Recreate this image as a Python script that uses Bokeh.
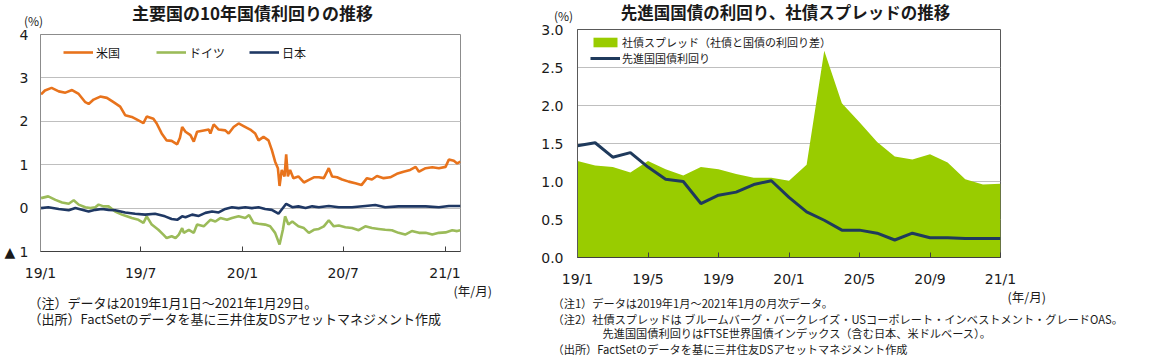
import pandas as pd
from bokeh.plotting import figure
from bokeh.layouts import row, column
from bokeh.models import Label, Legend, LegendItem, FixedTicker, NumeralTickFormatter, Range1d
from bokeh.embed import file_html
from bokeh.resources import INLINE

# ---------------- left chart data (days since 2019-01-01, yield %) ----------------
BASE = "2019-01-01"
END = "2021-01-29"
us_days = [1, 8, 20, 33, 45, 57, 69, 81, 87, 96, 108, 120, 132, 144, 153, 165, 177, 186, 192, 204,
           210, 219, 228, 237, 247, 252, 256, 262, 271, 277, 283, 295, 304, 307, 313, 322, 334, 340,
           349, 358, 367, 379, 388, 394, 403, 412, 418, 424, 429, 432, 436, 441, 444, 447, 451, 457,
           466, 476, 485, 494, 503, 512, 521, 527, 536, 545, 557, 569, 580, 590, 599, 608, 620, 632,
           644, 656, 668, 678, 684, 696, 708, 720, 732, 738, 747, 753, 759]
us_yield = [2.62, 2.71, 2.77, 2.69, 2.66, 2.72, 2.63, 2.44, 2.40, 2.50, 2.57, 2.54, 2.44, 2.34, 2.14,
            2.10, 2.02, 1.96, 2.11, 2.06, 1.95, 1.72, 1.56, 1.55, 1.47, 1.62, 1.87, 1.76, 1.68, 1.53,
            1.76, 1.79, 1.81, 1.72, 1.93, 1.81, 1.79, 1.72, 1.87, 1.95, 1.89, 1.81, 1.72, 1.56, 1.64,
            1.56, 1.34, 1.07, 0.92, 0.51, 0.88, 0.73, 1.24, 0.73, 0.88, 0.69, 0.73, 0.59, 0.65, 0.71,
            0.71, 0.69, 0.92, 0.73, 0.71, 0.66, 0.61, 0.57, 0.53, 0.69, 0.66, 0.74, 0.69, 0.71, 0.79,
            0.84, 0.88, 0.95, 0.84, 0.92, 0.94, 0.92, 0.95, 1.12, 1.09, 1.03, 1.07]
de_days = [1, 14, 27, 39, 51, 60, 69, 81, 90, 99, 105, 114, 123, 135, 147, 156, 165, 177, 186, 192,
           201, 213, 222, 228, 237, 244, 250, 256, 259, 268, 277, 283, 295, 307, 316, 325, 337, 346,
           358, 370, 377, 385, 394, 406, 415, 424, 432, 438, 442, 448, 455, 466, 476, 485, 494, 503,
           512, 521, 530, 539, 551, 563, 575, 587, 599, 611, 623, 635, 647, 659, 671, 684, 696, 708,
           720, 732, 744, 753, 759]
de_yield = [0.23, 0.27, 0.19, 0.13, 0.10, 0.18, 0.08, 0.02, 0.00, 0.02, 0.08, 0.04, 0.04, -0.08,
            -0.15, -0.19, -0.23, -0.27, -0.34, -0.19, -0.38, -0.50, -0.61, -0.69, -0.65, -0.69,
            -0.61, -0.46, -0.57, -0.50, -0.57, -0.38, -0.42, -0.27, -0.31, -0.23, -0.27, -0.23,
            -0.19, -0.23, -0.16, -0.34, -0.36, -0.38, -0.42, -0.57, -0.84, -0.50, -0.19, -0.38,
            -0.31, -0.42, -0.46, -0.57, -0.50, -0.48, -0.42, -0.28, -0.42, -0.40, -0.44, -0.46,
            -0.51, -0.42, -0.46, -0.48, -0.50, -0.51, -0.57, -0.61, -0.53, -0.57, -0.57, -0.61,
            -0.57, -0.56, -0.51, -0.53, -0.51]
jp_days = [1, 14, 33, 51, 63, 75, 87, 99, 111, 123, 135, 153, 171, 189, 207, 225, 237, 247, 256, 262,
           274, 286, 298, 310, 322, 334, 346, 358, 370, 382, 394, 406, 418, 430, 444, 455, 466, 479,
           491, 503, 521, 539, 563, 587, 605, 623, 647, 671, 696, 720, 738, 759]
jp_yield = [0.00, 0.02, -0.02, -0.05, 0.00, -0.04, -0.08, -0.04, -0.02, -0.04, -0.05, -0.10, -0.13,
            -0.15, -0.13, -0.19, -0.25, -0.27, -0.19, -0.21, -0.15, -0.18, -0.11, -0.08, -0.10,
            -0.02, 0.02, 0.00, 0.02, 0.00, 0.02, -0.02, -0.04, -0.13, 0.10, 0.02, 0.04, 0.00, 0.04,
            0.02, 0.05, 0.02, 0.02, 0.05, 0.07, 0.02, 0.04, 0.04, 0.04, 0.02, 0.05, 0.05]
left_tick_dates = ["2019-01-01", "2019-07-01", "2020-01-01", "2020-07-01", "2021-01-01"]
left_tick_labels = ["19/1", "19/7", "20/1", "20/7", "21/1"]
left_y_ticks = [-1, 0, 1, 2, 3, 4]

# ---------------- right chart data (monthly) ----------------
months = ["19/1", "19/2", "19/3", "19/4", "19/5", "19/6", "19/7", "19/8", "19/9", "19/10", "19/11",
          "19/12", "20/1", "20/2", "20/3", "20/4", "20/5", "20/6", "20/7", "20/8", "20/9", "20/10",
          "20/11", "20/12", "21/1"]
spread = [1.27, 1.21, 1.19, 1.12, 1.27, 1.16, 1.08, 1.19, 1.16, 1.10, 1.05, 1.05, 1.01, 1.22, 2.72,
          2.03, 1.78, 1.52, 1.33, 1.29, 1.36, 1.25, 1.03, 0.96, 0.97]
govt = [1.47, 1.51, 1.32, 1.38, 1.19, 1.03, 1.00, 0.71, 0.82, 0.86, 0.96, 1.01, 0.79, 0.60, 0.49,
        0.36, 0.36, 0.32, 0.23, 0.32, 0.26, 0.26, 0.25, 0.25, 0.25]
right_tick_labels = ["19/1", "19/5", "19/9", "20/1", "20/5", "20/9", "21/1"]
right_y_ticks = [0.0, 0.5, 1.0, 1.5, 2.0, 2.5, 3.0]

JP = "Noto Sans CJK JP"
NUM = "DejaVu Sans"
TXT = "#1a1a1a"
H = 361


def lab(p, x, y, text, size="13px", bold=False, align="left"):
    p.add_layout(Label(x=x, y=y, x_units="screen", y_units="screen", text=text,
                       text_font=JP, text_font_size=size, text_color=TXT,
                       text_font_style="bold" if bold else "normal",
                       text_align=align, text_baseline="middle"))


def style_axes(xa, ya, standoff_x, standoff_y, yline):
    xa.major_tick_in = 5
    xa.major_tick_out = 0
    xa.minor_tick_line_color = None
    xa.axis_line_color = "#404040"
    xa.major_tick_line_color = "#404040"
    xa.major_label_standoff = standoff_x
    xa.major_label_text_font = NUM
    xa.major_label_text_font_size = "14px"
    xa.major_label_text_color = TXT
    ya.major_tick_in = 0
    ya.major_tick_out = 0
    ya.major_tick_line_color = None
    ya.minor_tick_line_color = None
    ya.axis_line_color = yline
    ya.major_label_standoff = standoff_y
    ya.major_label_text_font = NUM
    ya.major_label_text_font_size = "14px"
    ya.major_label_text_color = TXT


# ---------------- left chart ----------------
base = pd.Timestamp(BASE)
end_day = (pd.Timestamp(END) - base).days
lt = [(pd.Timestamp(d) - base).days for d in left_tick_dates]

p1 = figure(width=538, height=H, output_backend="svg", toolbar_location=None,
            x_range=Range1d(0, end_day), y_range=Range1d(-1, 4),
            min_border_left=40, min_border_right=78, min_border_top=34, min_border_bottom=H - 34 - 217)
p1.outline_line_color = "#8c8c8c"
p1.xgrid.visible = False
p1.ygrid.grid_line_color = "#bfbfbf"
p1.ygrid.ticker = FixedTicker(ticks=left_y_ticks)

r_us = p1.line(us_days, us_yield, line_color="#e8731c", line_width=2.6)
r_de = p1.line(de_days, de_yield, line_color="#9bbb59", line_width=2.6)
r_jp = p1.line(jp_days, jp_yield, line_color="#1f3864", line_width=2.6)

xa = p1.xaxis[0]
ya = p1.yaxis[0]
xa.ticker = FixedTicker(ticks=lt)
xa.major_label_overrides = {t: s for t, s in zip(lt, left_tick_labels)}
ya.ticker = FixedTicker(ticks=left_y_ticks)
ya.major_label_overrides = {-1: "▲ 1"}
style_axes(xa, ya, 13, 12, "#8c8c8c")

leg1 = Legend(items=[LegendItem(label="米国", renderers=[r_us]),
                     LegendItem(label="ドイツ", renderers=[r_de]),
                     LegendItem(label="日本", renderers=[r_jp])],
              orientation="horizontal", location=(23, 189), glyph_width=30, glyph_height=20,
              label_standoff=3, label_width=57, spacing=3, padding=0, margin=0,
              border_line_color=None, background_fill_alpha=0,
              label_text_font=JP, label_text_font_size="12px", label_text_color=TXT)
p1.add_layout(leg1)

# ---------------- right chart ----------------
idx = list(range(len(months)))
rt = [months.index(m) for m in right_tick_labels]

p2 = figure(width=614, height=H, output_backend="svg", toolbar_location=None,
            x_range=Range1d(0, len(months) - 1), y_range=Range1d(0, 3),
            min_border_left=39, min_border_right=152, min_border_top=29, min_border_bottom=H - 29 - 228)
p2.outline_line_color = "#595959"
p2.xgrid.visible = False
p2.ygrid.grid_line_color = "#bfbfbf"
p2.ygrid.ticker = FixedTicker(ticks=right_y_ticks)

r_sp = p2.varea(x=idx, y1=0, y2=spread, fill_color="#99cc00")
r_gv = p2.line(idx, govt, line_color="#1f3a5c", line_width=3)

xa2 = p2.xaxis[0]
ya2 = p2.yaxis[0]
xa2.ticker = FixedTicker(ticks=rt)
xa2.major_label_overrides = {t: s for t, s in zip(rt, right_tick_labels)}
ya2.ticker = FixedTicker(ticks=right_y_ticks)
ya2.formatter = NumeralTickFormatter(format="0.0")
style_axes(xa2, ya2, 13, 14, "#595959")

leg2 = Legend(items=[LegendItem(label="社債スプレッド（社債と国債の利回り差）", renderers=[r_sp]),
                     LegendItem(label="先進国国債利回り", renderers=[r_gv])],
              location=(13, 191), glyph_width=30, glyph_height=12, label_height=16,
              label_standoff=2, spacing=0, padding=0, margin=0,
              border_line_color=None, background_fill_alpha=0,
              label_text_font=JP, label_text_font_size="11px", label_text_color=TXT)
p2.add_layout(leg2)

# ---------------- transparent text overlay (titles, units, notes) ----------------
ov = figure(width=1152, height=H, output_backend="svg", toolbar_location=None,
            x_range=Range1d(0, 1152), y_range=Range1d(0, H),
            x_axis_type=None, y_axis_type=None, min_border=0)
ov.outline_line_color = None
ov.grid.visible = False
ov.background_fill_color = None
ov.border_fill_color = None
ov.margin = (-H, 0, 0, 0)


def oy(y):
    return H - y


lab(ov, 252, oy(12), "主要国の10年国債利回りの推移", size="17px", bold=True, align="center")
lab(ov, 33, oy(20), "(%)", size="12px", align="center")
lab(ov, 785, oy(11.5), "先進国国債の利回り、社債スプレッドの推移", size="16.5px", bold=True, align="center")
lab(ov, 563, oy(15), "(%)", size="12px", align="center")
lab(ov, 453, oy(290), "(年/月)", size="12.5px")
lab(ov, 28, oy(302), "（注）データは2019年1月1日～2021年1月29日。")
lab(ov, 28, oy(318), "（出所）FactSetのデータを基に三井住友DSアセットマネジメント作成")
lab(ov, 1007, oy(296), "(年/月)", size="12.5px")
lab(ov, 552, oy(302), "（注1）データは2019年1月～2021年1月の月次データ。", size="11.2px")
lab(ov, 552, oy(318.5), "（注2）社債スプレッドは ブルームバーグ・バークレイズ・USコーポレート・インベストメント・グレードOAS。", size="11.2px")
lab(ov, 602, oy(332), "先進国国債利回りはFTSE世界国債インデックス（含む日本、米ドルベース）。", size="11.2px")
lab(ov, 552, oy(348), "（出所）FactSetのデータを基に三井住友DSアセットマネジメント作成", size="11.2px")

layout = column(row(column(p1), column(p2)), ov)
open("out.html", "w").write(file_html(layout, INLINE))
